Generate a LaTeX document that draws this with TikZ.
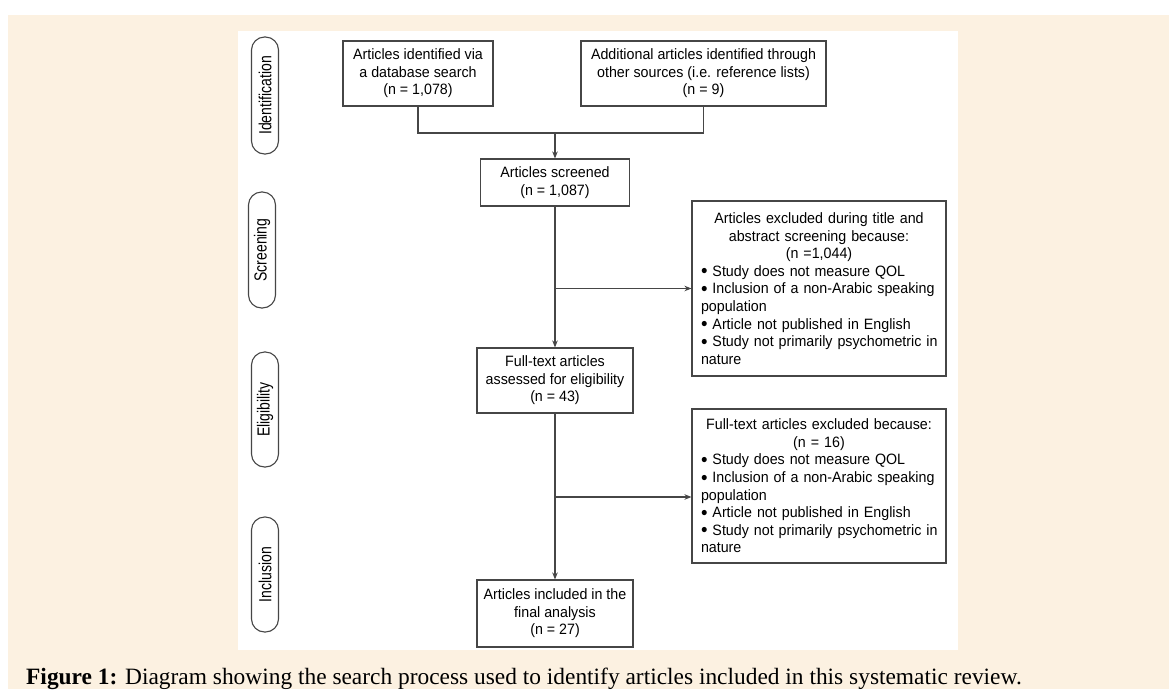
\documentclass[tikz,border=0pt]{standalone}
\usepackage{fontspec}
\setmainfont{Liberation Serif}
\newfontfamily\boxfont[FakeStretch=0.95]{Liberation Sans}
\newfontfamily\stagefont[FakeStretch=0.8]{Liberation Sans}
\usetikzlibrary{arrows.meta}
\definecolor{peach}{RGB}{252,241,225}
\definecolor{linegray}{RGB}{70,70,70}
\newcommand\blt{\raisebox{-0.1em}{\scalebox{1.3}{\textbullet}}}

\begin{document}
\begin{tikzpicture}[x=1pt,y=-1pt,
  box/.style={draw=linegray,line width=1.1pt,align=center,inner sep=0pt,
    font=\boxfont\fontsize{15}{17.6}\selectfont},
  listbox/.style={box,align=left,text width=242pt,inner xsep=6pt,minimum height=#1},
  stage/.style={draw=linegray,line width=1.1pt,rounded corners=13pt,rotate=90,
    minimum height=27pt,minimum width=#1,inner sep=0pt,
    font=\stagefont\fontsize{17.5}{20}\selectfont},
  link/.style={draw=linegray,line width=1.1pt},
  arr/.style={link,-{Stealth[length=7pt,width=5.5pt]}}]
\useasboundingbox (0,0) rectangle (1169,689);
\fill[white] (0,0) rectangle (1169,689);
\fill[peach] (8,15) rectangle (1169,689);
\fill[white] (238,31) rectangle (958,650);

\node[stage=117pt] (sid) at (265,95.5) {Identification};
\node[stage=116pt] (sscr) at (262,250) {Screening};
\node[stage=115pt] (selig) at (265,409.5) {Eligibility};
\node[stage=115pt] (sincl) at (265,574.5) {Inclusion};

\node[box,minimum width=150pt,minimum height=65pt] (idbox) at (418,73.5) {Articles identified via\\a database search\\(n = 1,078)};
\node[box,minimum width=245pt,minimum height=65pt] (otherbox) at (703.5,73.5) {Additional articles identified through\\other sources (i.e. reference lists)\\(n = 9)};
\node[box,minimum width=149pt,minimum height=47pt] (screened) at (555,182.5) {Articles screened\\(n = 1,087)};
\node[listbox=175pt] (excl1) at (819,288.5) {{\centering Articles excluded during title and\\abstract screening because:\\(n =1,044)\par}
\hspace*{3pt}\blt{} Study does not measure QOL\\
\hspace*{3pt}\blt{} Inclusion of a non-Arabic speaking\\
\hspace*{3pt}population\\
\hspace*{3pt}\blt{} Article not published in English\\
\hspace*{3pt}\blt{} Study not primarily psychometric in\\
\hspace*{3pt}nature};
\node[box,minimum width=156pt,minimum height=65pt] (fulltext) at (555,380.5) {Full-text articles\\assessed for eligibility\\(n = 43)};
\node[listbox=154pt] (excl2) at (819,486) {{\centering Full-text articles excluded because:\\(n = 16)\par}
\hspace*{3pt}\blt{} Study does not measure QOL\\
\hspace*{3pt}\blt{} Inclusion of a non-Arabic speaking\\
\hspace*{3pt}population\\
\hspace*{3pt}\blt{} Article not published in English\\
\hspace*{3pt}\blt{} Study not primarily psychometric in\\
\hspace*{3pt}nature};
\node[box,minimum width=156pt,minimum height=67pt] (included) at (555,613.5) {Articles included in the\\final analysis\\(n = 27)};

\coordinate (join) at (555,133);
\coordinate (fork) at (555,497);
\draw[link] (idbox.south) |- (join) -| (otherbox.south);
\draw[arr] (join) -- (screened.north);
\draw[arr] (screened.south) -- (fulltext.north);
\draw[arr] (screened.south |- excl1.west) -- (excl1.west);
\draw[arr] (fulltext.south) -- (included.north);
\draw[arr] (fork) -- (fork -| excl2.west);

\node[anchor=base west,inner sep=0pt,font=\fontsize{23.4}{27}\selectfont] (caption) at (26,684)
  {\textbf{Figure 1:} Diagram showing the search process used to identify articles included in this systematic review.};
\end{tikzpicture}
\end{document}
